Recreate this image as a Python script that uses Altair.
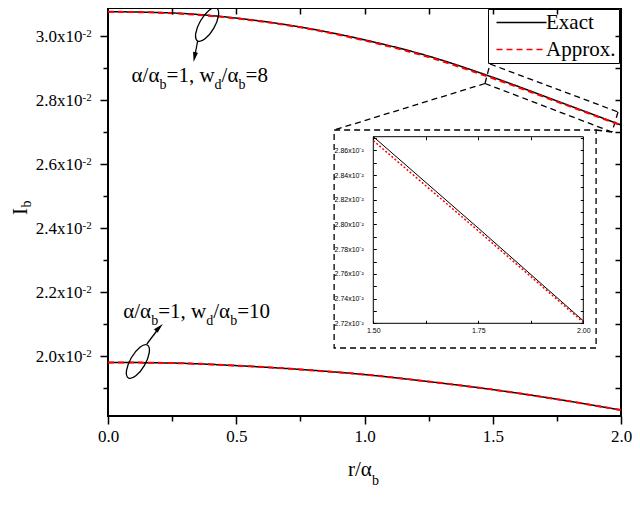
import altair as alt
import pandas as pd

# ---------------- values ----------------
r_vals = [0.0, 0.25, 0.5, 0.75, 1.0, 1.25, 1.5, 1.75, 2.0]
exact_w8 = [0.03076, 0.03072, 0.03056, 0.03028, 0.02988, 0.02937, 0.02871, 0.02797, 0.02722]
approx_w8 = [0.03076, 0.03071, 0.03055, 0.03027, 0.02986, 0.02934, 0.028678, 0.027948, 0.027208]
exact_w10 = [0.01980, 0.01978, 0.01970, 0.01958, 0.01942, 0.01920, 0.01895, 0.01865, 0.01831]
approx_w10 = [0.01980, 0.01978, 0.01970, 0.01958, 0.01942, 0.01920, 0.01895, 0.01865, 0.01831]

series_names = ["Exact", "Approx."]
series_colors = ["black", "red"]

x_major = [0.0, 0.5, 1.0, 1.5, 2.0]
x_minor = [0.25, 0.75, 1.25, 1.75]
x_all = [0.25, 0.5, 0.75, 1.0, 1.25, 1.5, 1.75]
y_major = [0.020, 0.022, 0.024, 0.026, 0.028, 0.030]
y_minor = [0.019, 0.021, 0.023, 0.025, 0.027, 0.029]
y_all = [0.019, 0.020, 0.021, 0.022, 0.023, 0.024, 0.025, 0.026, 0.027, 0.028, 0.029, 0.030]

inset_x_ticks = [1.5, 1.625, 1.75, 1.875, 2.0]
inset_y_ticks = [0.0272, 0.0273, 0.0274, 0.0275, 0.0276, 0.0277, 0.0278, 0.0279,
                 0.0280, 0.0281, 0.0282, 0.0283, 0.0284, 0.0285, 0.0286, 0.0287]

rows = []
for name, curve, vals in [("Exact", "w8", exact_w8), ("Approx.", "w8", approx_w8),
                          ("Exact", "w10", exact_w10), ("Approx.", "w10", approx_w10)]:
    for r, v in zip(r_vals, vals):
        rows.append({"r": r, "I": v, "series": name, "curve": curve})
df = pd.DataFrame(rows)
one = pd.DataFrame({"k": [0]})

FONT = "Liberation Serif"
SANS = "Liberation Sans"
W, H = 513, 408

xs = alt.Scale(domain=[0, 2], nice=False, zero=False)
ys = alt.Scale(domain=[0.018125, 0.030875], nice=False, zero=False)
ixs = alt.Scale(domain=[1.5, 2.0], range=[265.3, 475.3], nice=False, zero=False)
iys = alt.Scale(domain=[0.0272, 0.02871], range=[315.3, 128.7], nice=False, zero=False)


def axis(orient, values, tick, labels=False, offset=0, **kw):
    return alt.Axis(orient=orient, values=values, tickSize=tick, labels=labels, offset=offset,
                    domain=False, grid=False, zindex=1, tickColor="black", tickWidth=1.5,
                    labelFlush=False, labelOverlap=False, labelColor="black", **kw)


leg = alt.Legend(orient="none", legendX=380, legendY=1, symbolType="M-5,0H5", symbolSize=100,
                 symbolOffset=20, symbolStrokeWidth=1.5, labelOffset=14, labelFont=FONT,
                 labelFontSize=21, labelColor="black", strokeColor="black", fillColor="white",
                 padding=3, rowPadding=5)
color_enc = alt.Color("series:N", scale=alt.Scale(domain=series_names, range=series_colors),
                      legend=leg, title=None)
dash_enc = alt.StrokeDash("series:N", scale=alt.Scale(domain=series_names, range=[[1, 0], [6, 4]]),
                          legend=leg, title=None)

base = alt.Chart(df)

exact_layer = base.transform_filter(alt.datum.series == "Exact").mark_line(
    strokeWidth=1.5, interpolate="monotone").encode(
    x=alt.X("r:Q", scale=xs, title=None,
            axis=axis("bottom", x_major, 8, labels=True, format=".1f", labelFont=FONT,
                      labelFontSize=17, labelPadding=4)),
    y=alt.Y("I:Q", scale=ys, title=None,
            axis=axis("left", y_major, 8, labels=True,
                      labelExpr="format(datum.value*100, '.1f') + 'x10'",
                      labelFont=FONT, labelFontSize=17, labelPadding=18)),
    color=color_enc, strokeDash=dash_enc, detail="curve:N")

approx_layer = base.transform_filter(alt.datum.series == "Approx.").mark_line(
    strokeWidth=2, interpolate="monotone").encode(
    x=alt.X("r:Q", scale=xs, title=None, axis=axis("bottom", x_minor, 5)),
    y=alt.Y("I:Q", scale=ys, title=None, axis=axis("left", y_minor, 5)),
    color=color_enc, strokeDash=dash_enc, detail="curve:N")

mirror_layer = base.mark_line(opacity=0).encode(
    x=alt.X("r:Q", scale=xs, title=None, axis=axis("top", x_all, 6, offset=-6)),
    y=alt.Y("I:Q", scale=ys, title=None, axis=axis("right", y_all, 6, offset=-6)),
    detail="curve:N")

sup_layer = alt.Chart(pd.DataFrame({"v": y_major})).mark_text(
    align="left", baseline="alphabetic", font=FONT, fontSize=11, color="black", dy=1).encode(
    y=alt.Y("v:Q", scale=ys, axis=None), x=alt.value(-25.5), text=alt.value("-2"))


def dx_(v):
    return alt.XDatum(v, scale=xs, axis=None)


def dy_(v):
    return alt.YDatum(v, scale=ys, axis=None)


def text_at(r, i, txt, dx, sub):
    return alt.Chart(one).mark_text(text=txt, align="left", baseline="alphabetic", font=FONT,
                                    fontSize=14 if sub else 21, dx=dx, dy=7 if sub else 0,
                                    color="black").encode(x=dx_(r), y=dy_(i))


def label_parts(r, i, last):
    parts = [("α/α", 0, False), ("b", 28, True), ("=1, w", 35, False), ("d", 83, True),
             ("/α", 90, False), ("b", 107, True), (last, 114, False)]
    return [text_at(r, i, t, d, s) for t, d, s in parts]


ELLIPSE = ("M0,-1 C0.221,-1 0.4,-0.552 0.4,0 C0.4,0.552 0.221,1 0,1 "
           "C-0.221,1 -0.4,0.552 -0.4,0 C-0.4,-0.552 -0.221,-1 0,-1 Z")
HEAD = "M0,1 L-0.5,-1 L0.5,-1 Z"


def ellipse(r, i, ang):
    return alt.Chart(one).mark_point(shape=ELLIPSE, size=1444, angle=ang, filled=False,
                                     stroke="black", strokeWidth=1.3, opacity=1).encode(
        x=dx_(r), y=dy_(i))


def arrow(r1, i1, r2, i2, ang):
    line = alt.Chart(one).mark_rule(color="black", strokeWidth=1.3).encode(
        x=dx_(r1), y=dy_(i1), x2=alt.X2Datum(r2), y2=alt.Y2Datum(i2))
    head = alt.Chart(one).mark_point(shape=HEAD, size=100, angle=ang, filled=True,
                                     color="black", opacity=1).encode(x=dx_(r2), y=dy_(i2))
    return [line, head]


def dashed(r1, i1, r2, i2):
    return alt.Chart(one).mark_rule(color="black", strokeWidth=1.3, strokeDash=[6, 4]).encode(
        x=dx_(r1), y=dy_(i1), x2=alt.X2Datum(r2), y2=alt.Y2Datum(i2))


# zoom box around the end of the upper curve and its connectors
zoom_marks = [
    dashed(1.4893, 0.029125, 1.9883, 0.027625),
    dashed(1.9883, 0.027625, 1.9650, 0.0270),
    dashed(1.9650, 0.0270, 1.4699, 0.0285156),
    dashed(1.4699, 0.0285156, 1.4893, 0.029125),
    dashed(1.4699, 0.0285156, 0.8816, 0.0270625),
    dashed(1.9650, 0.0270, 1.9029, 0.0270625),
]
outer_box = alt.Chart(one).mark_rect(fill="white", stroke="black", strokeWidth=1.3,
                                     strokeDash=[6, 4]).encode(
    x=dx_(0.8816), x2=alt.X2Datum(1.9029), y=dy_(0.0270625), y2=alt.Y2Datum(0.02025))

titles = [
    alt.Chart(one).mark_text(text="I", angle=270, align="center", baseline="alphabetic",
                             font=FONT, fontSize=21, color="black").encode(
        x=alt.value(-81), y=alt.value(203.5)),
    alt.Chart(one).mark_text(text="b", angle=270, align="left", baseline="alphabetic",
                             font=FONT, fontSize=14, color="black").encode(
        x=alt.value(-77), y=alt.value(199.5)),
    alt.Chart(one).mark_text(text="r/α", align="left", baseline="alphabetic",
                             font=FONT, fontSize=21, color="black").encode(
        x=alt.value(240), y=alt.value(468)),
    alt.Chart(one).mark_text(text="b", align="left", baseline="alphabetic",
                             font=FONT, fontSize=14, color="black").encode(
        x=alt.value(264), y=alt.value(477)),
]

annot = (label_parts(0.092, 0.0285625, "=8") + label_parts(0.0594, 0.0211781, "=10")
         + [ellipse(0.3864, 0.030359, 30), ellipse(0.1165, 0.0198281, 30)]
         + arrow(0.3495, 0.0298438, 0.3375, 0.0293406, 11)
         + arrow(0.1515, 0.020375, 0.2, 0.0208906, 225))

main = alt.layer(outer_box, *zoom_marks, exact_layer, approx_layer, mirror_layer, sup_layer,
                 *annot, *titles).resolve_axis(x="independent", y="independent")

# ---------------- inset ----------------
ibase = base.transform_filter((alt.datum.curve == "w8") & (alt.datum.r >= 1.5))
inset_frame = alt.Chart(one).mark_rect(fill="white", stroke="black", strokeWidth=1).encode(
    x=alt.XDatum(1.5, scale=ixs, axis=None), x2=alt.X2Datum(2.0),
    y=alt.YDatum(0.0272, scale=iys, axis=None), y2=alt.Y2Datum(0.02871))


def iaxis(orient, values, offset, **kw):
    return alt.Axis(orient=orient, values=values, tickSize=3, offset=offset, domain=False,
                    grid=False, zindex=1, tickColor="black", tickWidth=1, labelFlush=False,
                    labelOverlap=False, labelColor="black", **kw)


inset_exact = ibase.transform_filter(alt.datum.series == "Exact").mark_line(
    color="black", strokeWidth=1).encode(
    x=alt.X("r:Q", scale=ixs, title=None,
            axis=iaxis("bottom", inset_x_ticks, -(H - 315.3) - 3, labels=True,
                       labelExpr="(datum.value == 1.5 || datum.value == 1.75 || datum.value == 2) ? format(datum.value, '.2f') : ''",
                       labelFont=SANS, labelFontSize=7, labelPadding=3)),
    y=alt.Y("I:Q", scale=iys, title=None,
            axis=iaxis("left", inset_y_ticks, -(265.3 + 3), labels=True,
                       labelExpr="round(datum.value * 10000) % 2 == 0 ? format(datum.value * 100, '.2f') + 'x10⁻²' : ''",
                       labelFont=SANS, labelFontSize=7, labelPadding=10)))

inset_approx = ibase.transform_filter(alt.datum.series == "Approx.").mark_line(
    color="red", strokeWidth=1.5, strokeDash=[2, 2]).encode(
    x=alt.X("r:Q", scale=ixs, title=None,
            axis=iaxis("top", inset_x_ticks, -(128.7 + 3), labels=False)),
    y=alt.Y("I:Q", scale=iys, title=None,
            axis=iaxis("right", inset_y_ticks, 475.3 - 3 - W, labels=False)))

inset = alt.layer(inset_frame, inset_exact, inset_approx).resolve_axis(
    x="independent", y="independent")

chart = alt.layer(main, inset).resolve_scale(x="independent", y="independent").properties(
    width=W, height=H,
    padding={"left": 100, "top": 0, "right": 11, "bottom": 90},
    autosize=alt.AutoSizeParams(type="none"),
).configure_view(stroke="black", strokeWidth=2)

chart.save("out.html", embed_options={"renderer": "svg", "actions": False})
